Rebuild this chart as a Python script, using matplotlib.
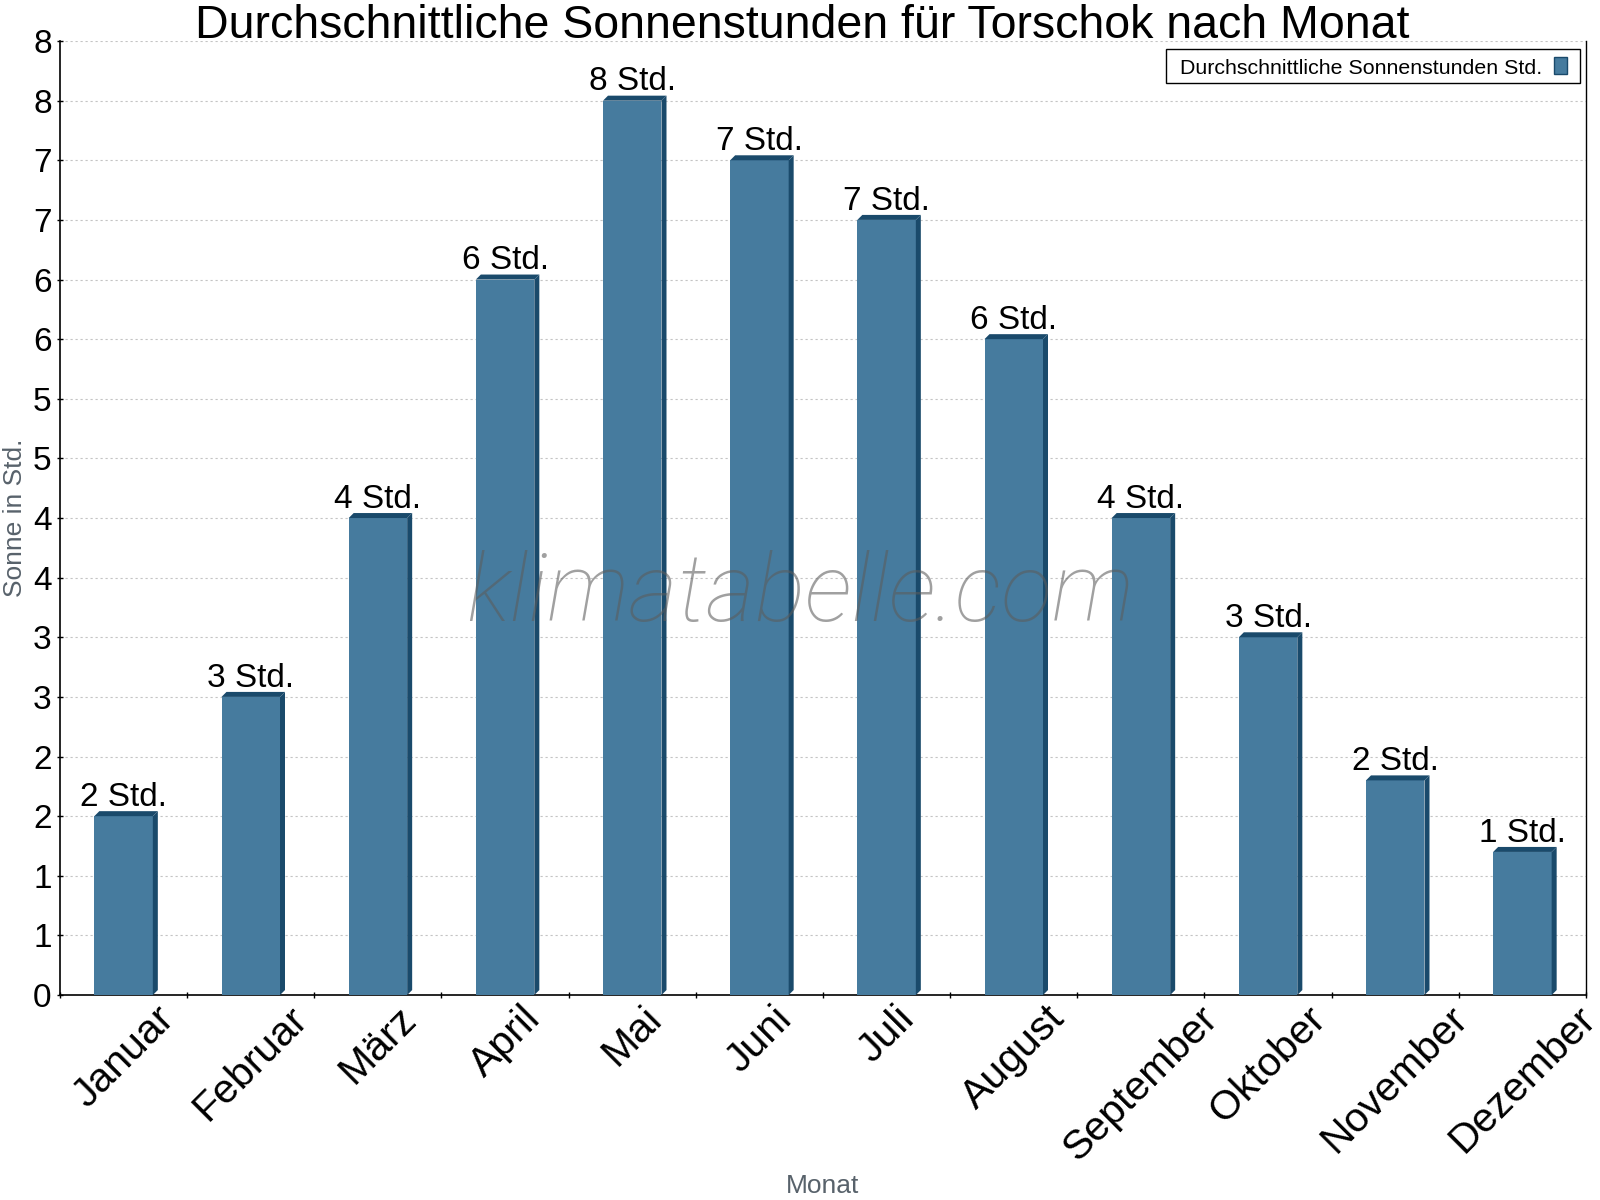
import numpy as np
import matplotlib
matplotlib.use('Agg')
import matplotlib.pyplot as plt
from matplotlib.patches import Polygon, Rectangle
from matplotlib.ticker import FuncFormatter

months = ['Januar', 'Februar', 'März', 'April', 'Mai', 'Juni', 'Juli',
          'August', 'September', 'Oktober', 'November', 'Dezember']
sun_hours = [1.5, 2.5, 4.0, 6.0, 7.5, 7.0, 6.5, 5.5, 4.0, 3.0, 1.8, 1.2]
series_name = 'Durchschnittliche Sonnenstunden Std.'
title = 'Durchschnittliche Sonnenstunden für Torschok nach Monat'

FACE = '#467b9e'
DARK = '#1a4a6b'
GRID = '#c4c4c4'
LABEL_GREY = '#58626b'

W, H = 1600, 1200


def round_half_up(v):
    return int(np.floor(v + 0.5))


def fx(px):
    return px / W


def fy(py):
    # pixel from top -> figure fraction
    return 1 - py / H


plt.rcParams['font.family'] = ['Liberation Sans', 'DejaVu Sans']

fig = plt.figure(figsize=(16, 12), dpi=100)
ax_rect = [0.0375, 0.1708, 0.95375, 0.795]
ax = fig.add_axes(ax_rect)

x = np.arange(len(months))
width = 0.46
ax.bar(x, sun_hours, width=width, color=FACE, zorder=3)
ax.set_xlim(-0.5, len(months) - 0.5)
ax.set_ylim(0, 8)

# depth of the fake 3d look, about 5 px, in data units
ax_w = W * ax_rect[2]
ax_h = H * ax_rect[3]
dx = 5 * len(months) / ax_w
dy = 5 * 8 / ax_h
for xi, v in zip(x, sun_hours):
    xl, xr = xi - width / 2, xi + width / 2
    side = Polygon([(xr, 0), (xr + dx, dy), (xr + dx, v + dy), (xr, v)],
                   closed=True, facecolor=DARK, edgecolor='none', zorder=3)
    top = Polygon([(xl, v), (xl + dx, v + dy), (xr + dx, v + dy), (xr, v)],
                  closed=True, facecolor=DARK, edgecolor='none', zorder=3)
    ax.add_patch(side)
    ax.add_patch(top)
    ax.annotate(f'{round_half_up(v)} Std.', xy=(xi, v + dy), xytext=(0, 3.8),
                textcoords='offset points', ha='center', va='baseline',
                fontsize=24, zorder=4)

# y axis
ax.set_yticks(np.arange(0, 8.01, 0.5))
ax.yaxis.set_major_formatter(FuncFormatter(lambda v, p: str(round_half_up(v))))
ax.tick_params(axis='y', direction='inout', length=4, width=1, labelsize=24, pad=4)
ax.yaxis.grid(True, color=GRID, linestyle=(0, (2, 2.5)), linewidth=0.8)
ax.set_axisbelow(True)

# x axis
ax.set_xticks(x)
ax.set_xticklabels(months, rotation=45, fontsize=29.5)
ax.tick_params(axis='x', which='major', length=0, pad=3)
ax.set_xticks(np.arange(-0.5, len(months), 1), minor=True)
ax.tick_params(axis='x', which='minor', direction='inout', length=5, width=1)

for side_name in ['left', 'bottom']:
    ax.spines[side_name].set_linewidth(1.2)
ax.spines['right'].set_linewidth(1.0)
ax.spines['top'].set_visible(False)

# legend box (text first, swatch on the right)
fig.patches.append(Rectangle((fx(1166), fy(83)), fx(1580) - fx(1166), fy(49) - fy(83),
                             transform=fig.transFigure, facecolor='white',
                             edgecolor='black', linewidth=1.0, zorder=20))
fig.patches.append(Rectangle((fx(1554), fy(74)), fx(1567) - fx(1554), fy(57) - fy(74),
                             transform=fig.transFigure, facecolor=FACE,
                             edgecolor=DARK, linewidth=1.0, zorder=21))
fig.text(fx(1180), fy(66), series_name, ha='left', va='center_baseline',
         fontsize=15.4, zorder=22)

# watermark
fig.text(0.5, fy(621), 'klimatabelle.com', ha='center', va='baseline',
         fontsize=68, style='italic', fontweight='light', color='#5c5c5c',
         alpha=0.58, family=['Roboto', 'Open Sans', 'DejaVu Sans'], zorder=10)

fig.text(0.5015, fy(38), title, ha='center', va='baseline', fontsize=33.5)
fig.text(fx(15), fy(518), 'Sonne in Std.', rotation=90, ha='center',
         va='center', fontsize=19, color=LABEL_GREY)
fig.text(fx(823), fy(1193), 'Monat', ha='center', va='baseline',
         fontsize=19, color=LABEL_GREY)

fig.savefig('out.png', dpi=100)
